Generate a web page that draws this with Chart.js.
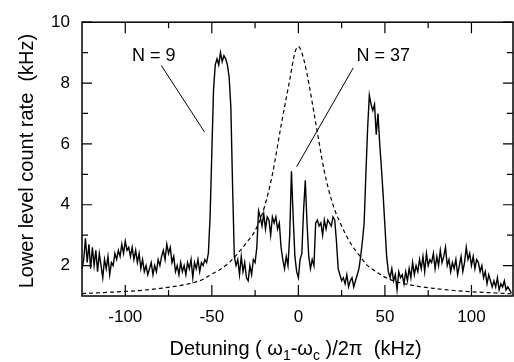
<!DOCTYPE html>
<html>
<head>
<meta charset="utf-8">
<script src="https://cdn.jsdelivr.net/npm/chart.js@4/dist/chart.umd.min.js"></script>
<style>
  html, body { margin: 0; padding: 0; background: #fff; }
  canvas { display: block; }
</style>
</head>
<body>
<canvas id="spectrum" width="514" height="362"></canvas>
<script>
// detuning (kHz) of the measured scan
const detuning = [
  -125, -124, -123, -122, -121, -120, -119, -118, -117, -116,
  -115, -114, -113, -112, -111, -110, -109, -108, -107, -106,
  -105, -104, -103, -102, -101, -100, -99, -98, -97, -96,
  -95, -94, -93, -92, -91, -90, -89, -88, -87, -86,
  -85, -84, -83, -82, -81, -80, -79, -78, -77, -76,
  -75, -74, -73, -72, -71, -70, -69, -68, -67, -66,
  -65, -64, -63, -62, -61, -60, -59, -58, -57, -56,
  -55, -54, -53, -52, -51, -50, -49, -48, -47, -46,
  -45, -44, -43, -42, -41, -40, -39, -38, -37, -36,
  -35, -34, -33, -32, -31, -30, -29, -28, -27, -26,
  -25, -24, -23, -22, -21, -20, -19, -18, -17, -16,
  -15, -14, -13, -12, -11, -10, -9, -8, -7, -6,
  -5, -4, -3, -2, -1, 0, 1, 2, 3, 4,
  5, 6, 7, 8, 9, 10, 11, 12, 13, 14,
  15, 16, 17, 18, 19, 20, 21, 22, 23, 24,
  25, 26, 27, 28, 29, 30, 31, 32, 33, 34,
  35, 36, 37, 38, 39, 40, 41, 42, 43, 44,
  45, 46, 47, 48, 49, 50, 51, 52, 53, 54,
  55, 56, 57, 58, 59, 60, 61, 62, 63, 64,
  65, 66, 67, 68, 69, 70, 71, 72, 73, 74,
  75, 76, 77, 78, 79, 80, 81, 82, 83, 84,
  85, 86, 87, 88, 89, 90, 91, 92, 93, 94,
  95, 96, 97, 98, 99, 100, 101, 102, 103, 104,
  105, 106, 107, 108, 109, 110, 111, 112, 113, 114,
  115, 116, 117, 118, 119, 120, 121, 122, 123
];
// lower level count rate (kHz)
const countRate = [
  1.9, 2.2, 2.9, 2.1, 2.7, 1.9, 2.6, 2.0, 2.5, 1.8,
  2.4, 2.0, 1.6, 2.2, 1.9, 2.3, 1.7, 2.1, 2.0, 2.4,
  2.2, 2.5, 2.3, 2.7, 2.4, 2.8, 2.5, 2.6, 2.3, 2.6,
  2.2, 2.5, 2.1, 2.4, 1.9, 2.2, 1.8, 2.0, 1.7, 1.9,
  2.1, 1.7, 2.0, 1.8, 2.2, 2.0, 2.3, 2.5, 2.2, 2.7,
  2.4, 2.6, 2.1, 2.3, 1.8, 2.0, 1.7, 2.1, 1.8, 2.0,
  1.7, 2.1, 1.9, 2.2, 1.6, 2.1, 1.9, 2.2, 1.8, 2.1,
  2.0, 2.2, 2.1, 2.4, 3.6, 5.7, 7.8, 8.6, 8.8, 8.6,
  9.0, 8.7, 8.9, 8.8, 8.6, 8.2, 7.2, 4.6, 2.3, 2.0,
  2.2, 1.7, 2.3, 1.8, 2.1, 1.6, 1.5, 2.0, 1.7, 2.2,
  2.1, 2.6, 3.8, 3.6, 3.3, 3.7, 3.2, 3.6, 3.5, 3.0,
  3.6, 3.4, 3.6, 3.2, 3.4, 2.6, 2.2, 1.9, 2.3, 2.0,
  3.0, 5.1, 3.6, 2.3, 1.8, 1.6, 2.2, 2.4, 3.8, 4.8,
  3.4, 2.3, 1.9, 2.2, 2.0, 3.4, 3.5, 3.3, 3.4, 3.0,
  3.5, 3.2, 3.5, 3.4, 3.3, 3.6, 3.5, 2.8, 1.9, 1.7,
  1.5, 1.6, 1.4, 1.7, 1.3, 1.5, 1.6, 1.3, 1.5, 1.7,
  1.9, 2.3, 2.8, 3.4, 5.0, 6.5, 7.6, 7.3, 7.1, 7.3,
  6.3, 7.0, 6.0, 5.2, 4.3, 3.3, 2.3, 1.8, 1.6, 1.9,
  1.5, 1.7, 1.2, 1.8, 1.6, 1.7, 1.4, 1.8, 1.5, 1.9,
  1.6, 2.1, 1.7, 2.0, 1.8, 2.2, 1.9, 2.3, 1.8, 2.4,
  2.0, 2.2, 2.1, 2.4, 1.9, 2.3, 2.0, 2.5, 2.1, 2.3,
  2.6, 2.0, 2.2, 1.8, 2.1, 1.9, 2.2, 1.7, 2.0, 2.3,
  1.8, 2.1, 2.6, 2.2, 2.4, 2.0, 2.3, 1.9, 2.2, 2.1,
  1.8, 2.0, 1.6, 1.8, 1.4, 1.7, 1.5, 1.3, 1.5, 1.3,
  1.6, 1.2, 1.4, 1.3, 1.5, 1.2, 1.3, 1.2, 1.1
];
// dashed reference curve
const refDetuning = [-125, -110, -100, -90, -80, -70, -60, -55, -50, -45, -40, -35, -30, -25, -20, -15, -10, -5, -2, 0,
  2, 5, 10, 15, 20, 25, 30, 35, 40, 45, 50, 55, 60, 70, 80, 90, 100, 110, 124];
const refRate = [1.08, 1.12, 1.15, 1.19, 1.25, 1.33, 1.45, 1.55, 1.72, 1.88, 2.1, 2.4, 2.75, 3.15, 3.85, 5.0, 6.6, 8.1, 9.0, 9.2,
  9.0, 8.3, 6.7, 5.1, 4.0, 3.3, 2.75, 2.35, 2.0, 1.8, 1.62, 1.5, 1.42, 1.31, 1.24, 1.18, 1.14, 1.11, 1.07];

const xMajor = [-100, -50, 0, 50, 100];
const xMinor = [-75, -25, 25, 75];
const yMajor = [2, 4, 6, 8, 10];
const yMinor = [3, 5, 7, 9];

// labels and their pointer lines, in data units
const labelText = ['N = 9', 'N = 37'];
const labelAt = [[-83.6, 8.9], [49, 8.9]];
const pointerFrom = [[-79.2, 8.58], [31.7, 8.5]];
const pointerTo = [[-54.2, 6.39], [-1.0, 5.25]];

const FONT = '"Liberation Sans", Arial, Helvetica, sans-serif';

const frameAndLabels = {
  id: 'frameAndLabels',
  beforeDraw(chart) {
    const c = chart.ctx;
    c.save();
    c.fillStyle = '#fff';
    c.fillRect(0, 0, chart.width, chart.height);
    c.restore();
  },
  afterDatasetsDraw(chart) {
    const c = chart.ctx, a = chart.chartArea;
    const xs = chart.scales.x, ys = chart.scales.y;
    c.save();
    c.strokeStyle = '#000';
    c.lineWidth = 1.5;
    c.strokeRect(a.left, a.top, a.right - a.left, a.bottom - a.top);

    c.lineWidth = 1.2;
    c.beginPath();
    const xt = (v, len) => {
      const p = xs.getPixelForValue(v);
      c.moveTo(p, a.bottom); c.lineTo(p, a.bottom - len);
      c.moveTo(p, a.top); c.lineTo(p, a.top + len);
    };
    const yt = (v, len) => {
      const p = ys.getPixelForValue(v);
      c.moveTo(a.left, p); c.lineTo(a.left + len, p);
      c.moveTo(a.right, p); c.lineTo(a.right - len, p);
    };
    xMajor.forEach(v => xt(v, 11));
    xMinor.forEach(v => xt(v, 6));
    yMajor.forEach(v => yt(v, 10));
    yMinor.forEach(v => yt(v, 6));
    c.stroke();

    // annotations
    c.lineWidth = 1;
    c.beginPath();
    pointerFrom.forEach((f, i) => {
      c.moveTo(xs.getPixelForValue(f[0]), ys.getPixelForValue(f[1]));
      c.lineTo(xs.getPixelForValue(pointerTo[i][0]), ys.getPixelForValue(pointerTo[i][1]));
    });
    c.stroke();
    c.fillStyle = '#000';
    c.font = '18px ' + FONT;
    c.textAlign = 'center';
    c.textBaseline = 'middle';
    labelText.forEach((t, i) => {
      c.fillText(t, xs.getPixelForValue(labelAt[i][0]), ys.getPixelForValue(labelAt[i][1]));
    });

    // y title
    c.font = '20px ' + FONT;
    c.save();
    c.translate(27, (a.top + a.bottom) / 2 + 2);
    c.rotate(-Math.PI / 2);
    c.fillText('Lower level count rate  (kHz)', 0, 0);
    c.restore();

    // x title with subscripts
    const parts = [
      ['Detuning ( ω', false], ['1', true], ['-ω', false], ['c', true], [' )/2π  (kHz)', false]
    ];
    const big = '20px ' + FONT, small = '14px ' + FONT;
    let w = 0;
    parts.forEach(p => { c.font = p[1] ? small : big; w += c.measureText(p[0]).width; });
    let x = (a.left + a.right) / 2 - w / 2 - 2;
    const base = 355;
    c.textAlign = 'left';
    c.textBaseline = 'alphabetic';
    parts.forEach(p => {
      c.font = p[1] ? small : big;
      c.fillText(p[0], x, p[1] ? base + 5 : base);
      x += c.measureText(p[0]).width;
    });
    c.restore();
  }
};

new Chart(document.getElementById('spectrum'), {
  type: 'line',
  data: {
    datasets: [{
      data: detuning.map((d, i) => ({ x: d, y: countRate[i] })),
      borderColor: '#000',
      borderWidth: 1.4,
      pointRadius: 0,
      tension: 0
    }, {
      data: refDetuning.map((d, i) => ({ x: d, y: refRate[i] })),
      borderColor: '#000',
      borderWidth: 1.2,
      borderDash: [4, 3],
      pointRadius: 0,
      cubicInterpolationMode: 'monotone'
    }]
  },
  options: {
    responsive: false,
    animation: false,
    events: [],
    layout: { padding: { top: 11, right: 1, left: 0, bottom: 0 } },
    plugins: {
      legend: { display: false },
      tooltip: { enabled: false }
    },
    scales: {
      x: {
        type: 'linear',
        min: -125,
        max: 124,
        grid: { display: false, drawTicks: false },
        border: { display: false },
        afterBuildTicks: s => { s.ticks = xMajor.map(v => ({ value: v })); },
        afterFit: s => { s.height = 66; },
        ticks: { color: '#000', font: { size: 17, family: FONT }, padding: 11, maxRotation: 0, autoSkip: false }
      },
      y: {
        min: 1,
        max: 10,
        grid: { display: false, drawTicks: false },
        border: { display: false },
        afterBuildTicks: s => { s.ticks = yMajor.map(v => ({ value: v })); },
        afterFit: s => { s.width = 82; },
        ticks: { color: '#000', font: { size: 17, family: FONT }, padding: 12 }
      }
    }
  },
  plugins: [frameAndLabels]
});
</script>
</body>
</html>
